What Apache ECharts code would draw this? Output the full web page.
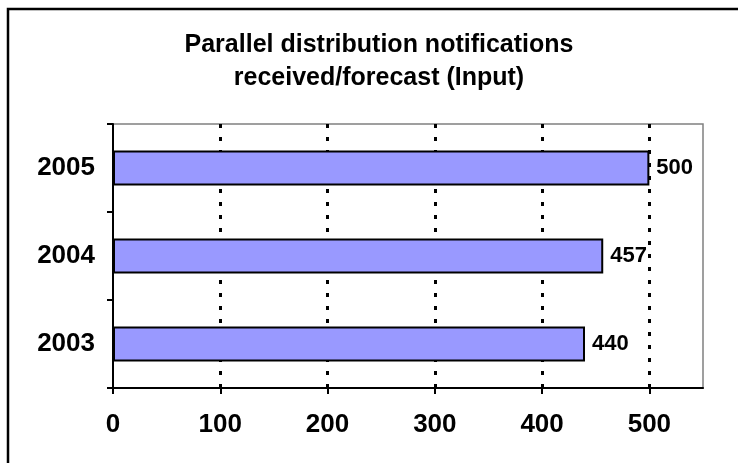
<!DOCTYPE html>
<html>
<head>
<meta charset="utf-8">
<script src="https://cdn.jsdelivr.net/npm/echarts@6/dist/echarts.min.js"></script>
<style>html,body{margin:0;padding:0;background:#fff}#c{width:738px;height:463px}</style>
</head>
<body>
<div id="c"></div>
<script>
var titleLines = ['Parallel distribution notifications', 'received/forecast (Input)'];
var categories = ['2003', '2004', '2005'];
var values = [440, 457, 500];
var xTicks = [0, 100, 200, 300, 400, 500];

var FONT = "'Liberation Sans', Arial, sans-serif";
var chart = echarts.init(document.getElementById('c'), null, {renderer: 'canvas'});
chart.setOption({
  animation: false,
  backgroundColor: '#fff',
  graphic: [{
    type: 'polyline',
    shape: {points: [[8, 463], [8, 9], [738, 9]]},
    style: {stroke: '#000', lineWidth: 2.5, fill: null}
  }, {
    type: 'text',
    x: 379, y: 29,
    style: {
      text: titleLines.join('\n'),
      align: 'center', verticalAlign: 'top',
      font: "bold 25px 'Liberation Sans', Arial, sans-serif",
      lineHeight: 33, fill: '#000'
    }
  }],
  grid: {left: 113, right: 35, top: 124, bottom: 75, show: true, borderColor: '#808080', borderWidth: 1.5, backgroundColor: 'transparent'},
  xAxis: {
    type: 'value', min: 0, max: 550, interval: 100,
    axisLine: {show: true, lineStyle: {color: '#000', width: 2}},
    axisTick: {show: true, length: 6, customValues: xTicks, lineStyle: {color: '#000', width: 2}},
    axisLabel: {
      fontFamily: FONT, fontWeight: 'bold', fontSize: 26, color: '#000', margin: 24,
      customValues: xTicks
    },
    splitLine: {show: true, showMinLine: false, showMaxLine: true, lineStyle: {color: '#000', width: 3, type: [4, 9]}}
  },
  yAxis: {
    type: 'category', data: categories,
    axisLine: {show: true, lineStyle: {color: '#000', width: 2}},
    axisTick: {show: true, length: 6, alignWithLabel: false, lineStyle: {color: '#000', width: 2}},
    axisLabel: {fontFamily: FONT, fontWeight: 'bold', fontSize: 26, color: '#000', margin: 18},
    splitLine: {show: false}
  },
  series: [{
    type: 'bar',
    data: values,
    barWidth: 35,
    itemStyle: {color: '#9999FF', borderColor: '#000', borderWidth: 2},
    label: {show: true, position: 'right', distance: 7, fontFamily: FONT, fontWeight: 'bold', fontSize: 22, color: '#000'}
  }]
});
</script>
</body>
</html>
